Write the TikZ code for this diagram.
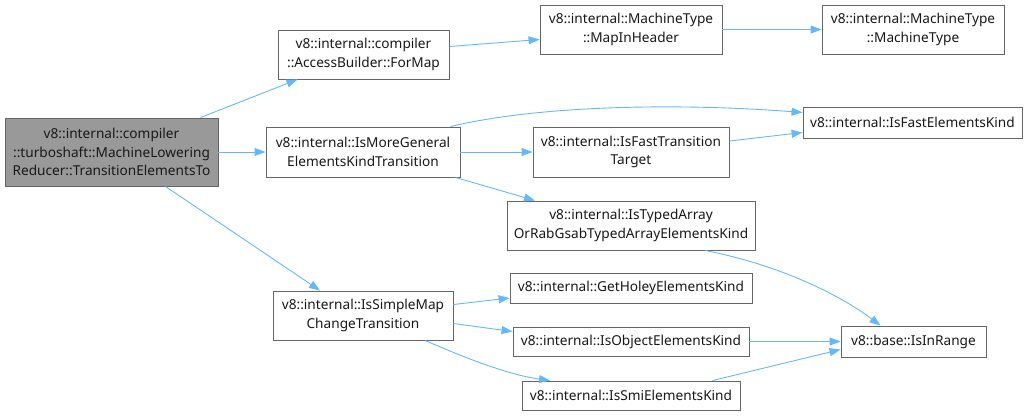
\documentclass[tikz,border=0pt]{standalone}
\usepackage{fontspec}
\setmainfont{Noto Sans}
\usetikzlibrary{arrows.meta,calc}
\definecolor{edgeblue}{HTML}{63B8FF}
\definecolor{boxline}{HTML}{666666}
\definecolor{rootfill}{HTML}{999999}
\begin{document}
\begin{tikzpicture}[x=1bp,y=-1bp,
  box/.style={draw=boxline, line width=0.9bp, fill=white, inner sep=0pt, align=center,
    font=\fontsize{13.7}{18.5}\selectfont, text=black!90},
  conn/.style={draw=edgeblue, line width=0.9bp, -{Triangle[length=11bp,width=8bp]}}]
\useasboundingbox (0,0) rectangle (1029,415);
% nodes
\node[box, fill=rootfill, minimum width=213bp, minimum height=68bp] (root) at (111.5,152) {v8::internal::compiler\\::turboshaft::MachineLowering\\Reducer::TransitionElementsTo};
\node[box, minimum width=171bp, minimum height=49bp] (formap) at (363.5,54.5) {v8::internal::compiler\\::AccessBuilder::ForMap};
\node[box, minimum width=182bp, minimum height=49bp] (mapin) at (631,29.5) {v8::internal::MachineType\\::MapInHeader};
\node[box, minimum width=182bp, minimum height=49bp] (mtype) at (913,29.5) {v8::internal::MachineType\\::MachineType};
\node[box, minimum width=194bp, minimum height=50bp] (more) at (363,152) {v8::internal::IsMoreGeneral\\ElementsKindTransition};
\node[box, minimum width=196bp, minimum height=50bp] (fastt) at (631,152) {v8::internal::IsFastTransition\\Target};
\node[box, minimum width=219bp, minimum height=31bp] (fastek) at (912.5,122.5) {v8::internal::IsFastElementsKind};
\node[box, minimum width=248bp, minimum height=49bp] (typed) at (631,225.5) {v8::internal::IsTypedArray\\OrRabGsabTypedArrayElementsKind};
\node[box, minimum width=180bp, minimum height=49bp] (simple) at (363,315.5) {v8::internal::IsSimpleMap\\ChangeTransition};
\node[box, minimum width=242bp, minimum height=30bp] (holey) at (631,288) {v8::internal::GetHoleyElementsKind};
\node[box, minimum width=236bp, minimum height=29bp] (object) at (631,341.5) {v8::internal::IsObjectElementsKind};
\node[box, minimum width=218bp, minimum height=29bp] (smi) at (631,395.5) {v8::internal::IsSmiElementsKind};
\node[box, minimum width=145bp, minimum height=31bp] (range) at (913.5,341.5) {v8::base::IsInRange};
% edges
\draw[conn] ([xshift=-18bp]root.north east) -- ([xshift=-66bp]formap.south);
\draw[conn] (root.east) -- (more.west);
\draw[conn] ([xshift=54bp]root.south) -- ([xshift=-43bp]simple.north);
\draw[conn] ([yshift=8bp]formap.east) -- ([yshift=-10bp]mapin.west);
\draw[conn] (mapin.east) -- (mtype.west);
\draw[conn] ([xshift=-10bp]more.north east) .. controls (540,105) and (680,103) .. ([yshift=10bp]fastek.west);
\draw[conn] (more.east) -- (fastt.west);
\draw[conn] ([xshift=-5bp]more.south east) -- ([xshift=-96bp]typed.north);
\draw[conn] ([yshift=11bp]fastt.east) -- ([yshift=-10bp]fastek.west);
\draw[conn] ([xshift=74bp]typed.south) .. controls (780,265) and (840,295) .. ([xshift=-33bp]range.north);
\draw[conn] ([yshift=11bp]simple.east) -- ([yshift=-10bp]holey.west);
\draw[conn] ([yshift=-8bp]simple.east) -- ([yshift=10bp]object.west);
\draw[conn] ([xshift=62bp]simple.south) .. controls (470,360) and (510,375) .. ([xshift=-81bp]smi.north);
\draw[conn] (object.east) -- (range.west);
\draw[conn] ([xshift=-28bp]smi.north east) -- ([yshift=-8bp]range.west);
\end{tikzpicture}
\end{document}
